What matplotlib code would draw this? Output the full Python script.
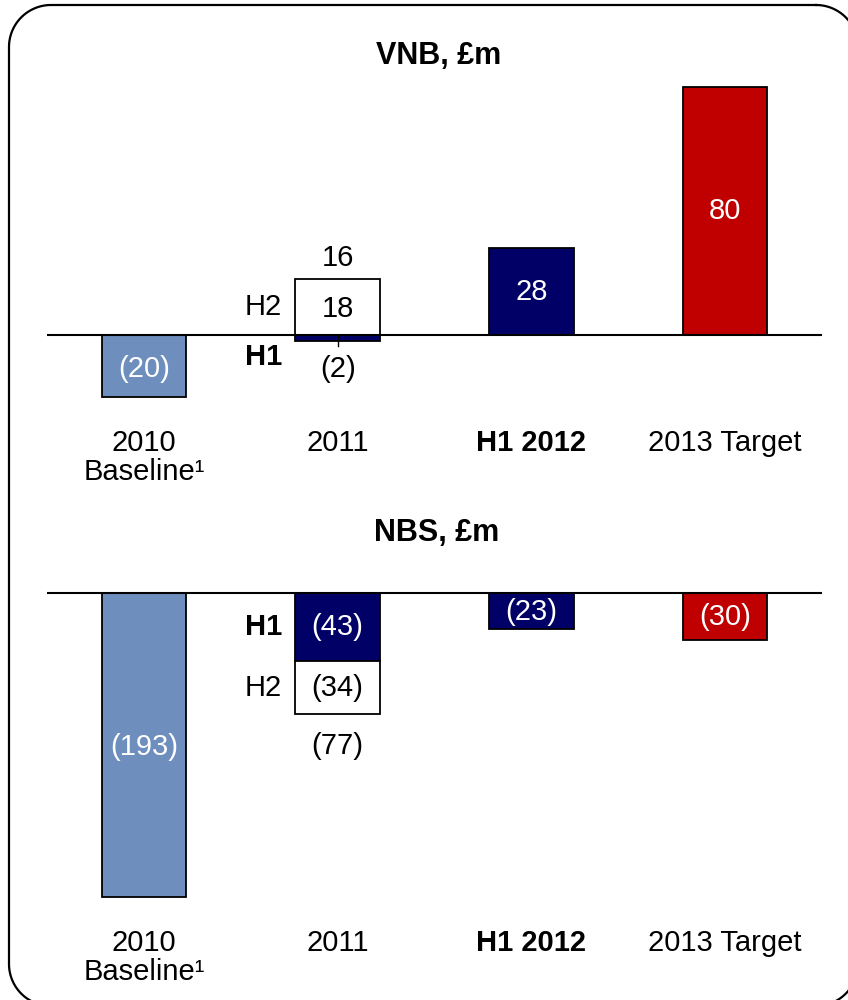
import matplotlib
matplotlib.use("Agg")
import numpy as np
import matplotlib.pyplot as plt
from matplotlib.lines import Line2D

plt.rcParams['font.family'] = ['Liberation Sans', 'DejaVu Sans']

# data
categories = ["2010\nBaseline\u00b9", "2011", "H1 2012", "2013 Target"]

vnb_baseline = -20
vnb_2011_h1 = -2
vnb_2011_h2 = 18
vnb_2011_total = 16
vnb_h1_2012 = 28
vnb_target = 80

nbs_baseline = -193
nbs_2011_h1 = -43
nbs_2011_h2 = -34
nbs_2011_total = -77
nbs_h1_2012 = -23
nbs_target = -30

LIGHT = '#6E8EBE'
NAVY = '#000066'
RED = '#C00000'
FS = 21
W = 0.435

W_PX, H_PX = 848, 1000
fig = plt.figure(figsize=(W_PX / 100, H_PX / 100), dpi=100)


# rounded frame around everything (pixel coords, y from top)
def rounded_frame(x0, y0, x1, y1, r):
    pts = []
    corners = [(x1 - r, y0 + r, -90, 0), (x1 - r, y1 - r, 0, 90),
               (x0 + r, y1 - r, 90, 180), (x0 + r, y0 + r, 180, 270)]
    for cx, cy, a0, a1 in corners:
        a = np.radians(np.linspace(a0, a1, 30))
        pts.extend(zip(cx + r * np.cos(a), cy + r * np.sin(a)))
    pts.append(pts[0])
    xs = [p[0] / W_PX for p in pts]
    ys = [1 - p[1] / H_PX for p in pts]
    fig.add_artist(Line2D(xs, ys, transform=fig.transFigure, color='black', linewidth=1.6))


rounded_frame(9, 5, 858, 1006, 42)


def make_axes(top_px, bottom_px, zero_px, px_per_unit):
    ax = fig.add_axes([47 / W_PX, 1 - bottom_px / H_PX, 775 / W_PX, (bottom_px - top_px) / H_PX])
    ax.set_xlim(-0.5, 3.5)
    ax.set_ylim(-(bottom_px - zero_px) / px_per_unit, (zero_px - top_px) / px_per_unit)
    for s in ax.spines.values():
        s.set_visible(False)
    ax.set_yticks([])
    ax.set_xticks(range(4))
    ax.set_xticklabels(categories, fontsize=FS, linespacing=1.05)
    ax.get_xticklabels()[2].set_fontweight('bold')
    ax.tick_params(axis='x', length=0, pad=3)
    ax.patch.set_visible(False)
    ax.axhline(0, color='black', linewidth=1.5, zorder=5)
    return ax


def bar(ax, x, bottom, value, color):
    ax.bar(x, value, width=W, bottom=bottom, color=color, edgecolor='black', linewidth=1.3, zorder=3)


# VNB panel
ax1 = make_axes(75, 425, 335, 3.1)
fig.text(439 / W_PX, 1 - 56 / H_PX, "VNB, \u00a3m", ha='center', va='center', fontsize=22, fontweight='bold')

bar(ax1, 0, 0, vnb_baseline, LIGHT)
ax1.text(0, vnb_baseline / 2 - 1, f"({-vnb_baseline})", color='white', ha='center', va='center', fontsize=FS)

bar(ax1, 1, 0, vnb_2011_h2, 'white')
bar(ax1, 1, 0, vnb_2011_h1, NAVY)
ax1.plot([1, 1], [0, -3.5], color='black', linewidth=1, zorder=4)
ax1.text(1, vnb_2011_h2 / 2 - 0.5, f"{vnb_2011_h2}", ha='center', va='center', fontsize=FS)
ax1.text(1, vnb_2011_total + 9, f"{vnb_2011_total}", ha='center', va='center', fontsize=FS)
ax1.text(1, -11, f"({-vnb_2011_h1})", ha='center', va='center', fontsize=FS)
ax1.text(1 - W / 2 - 0.07, vnb_2011_h2 / 2, "H2", ha='right', va='center', fontsize=FS)
ax1.text(1 - W / 2 - 0.07, -7, "H1", ha='right', va='center', fontsize=FS, fontweight='bold')

bar(ax1, 2, 0, vnb_h1_2012, NAVY)
ax1.text(2, vnb_h1_2012 / 2, f"{vnb_h1_2012}", color='white', ha='center', va='center', fontsize=FS)

bar(ax1, 3, 0, vnb_target, RED)
ax1.text(3, vnb_target / 2, f"{vnb_target}", color='white', ha='center', va='center', fontsize=FS)

# NBS panel
ax2 = make_axes(560, 925, 593, 1.575)
fig.text(437 / W_PX, 1 - 533 / H_PX, "NBS, \u00a3m", ha='center', va='center', fontsize=22, fontweight='bold')

bar(ax2, 0, 0, nbs_baseline, LIGHT)
ax2.text(0, nbs_baseline / 2 - 1, f"({-nbs_baseline})", color='white', ha='center', va='center', fontsize=FS)

bar(ax2, 1, 0, nbs_2011_h1, NAVY)
bar(ax2, 1, nbs_2011_h1, nbs_2011_h2, 'white')
ax2.text(1, nbs_2011_h1 / 2, f"({-nbs_2011_h1})", color='white', ha='center', va='center', fontsize=FS)
ax2.text(1, nbs_2011_h1 + nbs_2011_h2 / 2, f"({-nbs_2011_h2})", ha='center', va='center', fontsize=FS)
ax2.text(1, nbs_2011_total - 20, f"({-nbs_2011_total})", ha='center', va='center', fontsize=FS)
ax2.text(1 - W / 2 - 0.07, nbs_2011_h1 / 2, "H1", ha='right', va='center', fontsize=FS, fontweight='bold')
ax2.text(1 - W / 2 - 0.07, nbs_2011_h1 + nbs_2011_h2 / 2, "H2", ha='right', va='center', fontsize=FS)

bar(ax2, 2, 0, nbs_h1_2012, NAVY)
ax2.text(2, nbs_h1_2012 / 2 - 0.5, f"({-nbs_h1_2012})", color='white', ha='center', va='center', fontsize=FS)

bar(ax2, 3, 0, nbs_target, RED)
ax2.text(3, nbs_target / 2, f"({-nbs_target})", color='white', ha='center', va='center', fontsize=FS)

fig.savefig("out.png", dpi=100)
